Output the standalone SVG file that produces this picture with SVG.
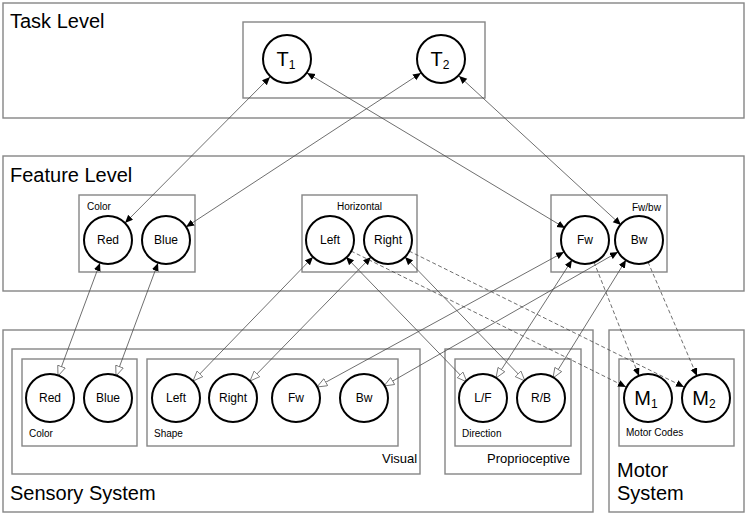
<svg xmlns="http://www.w3.org/2000/svg" width="747" height="516" viewBox="0 0 747 516">
<defs>
<style>
.box{fill:none;stroke:#858585;stroke-width:1.4}
.c{fill:#fff;stroke:#000;stroke-width:2}
.t{font-family:"Liberation Sans",Arial,sans-serif;fill:#000}
.big{font-size:20px}
.mid{font-size:13px}
.sm{font-size:10px}
.lbl{font-size:12px;text-anchor:middle}
.sub{font-size:20px;text-anchor:middle}
.ln{stroke:#4a4a4a;stroke-width:0.8;fill:none}
.ds{stroke:#4a4a4a;stroke-width:0.8;fill:none;stroke-dasharray:4 2.5}
.bi{marker-start:url(#sa);marker-end:url(#sa)}
.fs{marker-start:url(#sa);marker-end:url(#oa)}
.de{marker-end:url(#sa)}
</style>
<marker id="sa" markerUnits="userSpaceOnUse" markerWidth="10" markerHeight="8" refX="8" refY="3.5" orient="auto-start-reverse">
<path d="M0,0 L8,3.5 L0,7 z" fill="#000"/>
</marker>
<marker id="oa" markerUnits="userSpaceOnUse" markerWidth="12" markerHeight="10" refX="10.5" refY="4.5" orient="auto-start-reverse">
<path d="M0.5,0.5 L10.5,4.5 L0.5,8.5 z" fill="#fff" stroke="#666" stroke-width="0.8"/>
</marker>
</defs>
<rect width="747" height="516" fill="#fff"/>

<g id="containers">
<g id="task-level">
<rect class="box" x="3" y="3" width="741" height="115"/>
<text class="t big" x="10" y="28">Task Level</text>
<rect class="box" x="243" y="22" width="242" height="76"/>
</g>
<g id="feature-level">
<rect class="box" x="3" y="156" width="741" height="135"/>
<text class="t big" x="10" y="182">Feature Level</text>
<rect class="box" x="79" y="195" width="116" height="77"/>
<text class="t sm" x="87" y="210">Color</text>
<rect class="box" x="302" y="195" width="115" height="77"/>
<text class="t sm" x="337" y="210">Horizontal</text>
<rect class="box" x="551" y="195" width="116" height="77"/>
<text class="t sm" x="632" y="211">Fw/bw</text>
</g>
<g id="sensory-system">
<rect class="box" x="3" y="330" width="590" height="182"/>
<text class="t big" x="10" y="500">Sensory System</text>
<rect class="box" x="12" y="349" width="408" height="125"/>
<text class="t mid" x="382" y="463">Visual</text>
<rect class="box" x="22" y="359" width="115" height="87"/>
<text class="t sm" x="29" y="437">Color</text>
<rect class="box" x="147" y="359" width="251" height="87"/>
<text class="t sm" x="154" y="437">Shape</text>
<rect class="box" x="445" y="349" width="136" height="125"/>
<text class="t mid" x="487" y="463">Proprioceptive</text>
<rect class="box" x="455" y="359" width="116" height="87"/>
<text class="t sm" x="462" y="437">Direction</text>
</g>
<g id="motor-system">
<rect class="box" x="609" y="330" width="135" height="182"/>
<text class="t big" x="617" y="477">Motor</text>
<text class="t big" x="617" y="500">System</text>
<rect class="box" x="619" y="359" width="115" height="87"/>
<text class="t sm" x="626" y="436">Motor Codes</text>
</g>
</g>

<g id="connectors">
<line class="ln bi" x1="270" y1="77" x2="125" y2="223"/>
<line class="ln bi" x1="421" y1="73" x2="186" y2="227"/>
<line class="ln bi" x1="307" y1="73" x2="565" y2="228"/>
<line class="ln bi" x1="459" y1="76" x2="621" y2="225"/>
<line class="ln fs" x1="100" y1="263" x2="58" y2="376"/>
<line class="ln fs" x1="158" y1="263" x2="116" y2="376"/>
<line class="ln fs" x1="313" y1="257" x2="193" y2="381"/>
<line class="ln fs" x1="371" y1="257" x2="250" y2="381"/>
<line class="ln fs" x1="346" y1="257" x2="467" y2="382"/>
<line class="ln fs" x1="405" y1="257" x2="525" y2="381"/>
<line class="ln fs" x1="564" y1="252" x2="317" y2="387"/>
<line class="ln fs" x1="618" y1="252" x2="384" y2="386"/>
<line class="ln fs" x1="572" y1="260" x2="496" y2="378"/>
<line class="ln fs" x1="626" y1="260" x2="553" y2="378"/>
<line class="ds de" x1="594" y1="262" x2="639" y2="376"/>
<line class="ds de" x1="648" y1="262" x2="697" y2="376"/>
<line class="ds de" x1="351" y1="251" x2="626" y2="387"/>
<line class="ds de" x1="409" y1="251" x2="684" y2="387"/>
</g>

<g id="T1"><circle class="c" cx="287" cy="59" r="24"/><text class="t sub" x="286" y="66">T<tspan font-size="12" dy="3">1</tspan></text></g>
<g id="T2"><circle class="c" cx="441" cy="59" r="24"/><text class="t sub" x="440" y="66">T<tspan font-size="12" dy="3">2</tspan></text></g>

<g id="f-red"><circle class="c" cx="108" cy="240" r="24"/><text class="t lbl" x="108" y="244">Red</text></g>
<g id="f-blue"><circle class="c" cx="166" cy="240" r="24"/><text class="t lbl" x="166" y="244">Blue</text></g>
<g id="f-left"><circle class="c" cx="330" cy="240" r="24"/><text class="t lbl" x="330" y="244">Left</text></g>
<g id="f-right"><circle class="c" cx="388" cy="240" r="24"/><text class="t lbl" x="388" y="244">Right</text></g>
<g id="f-fw"><circle class="c" cx="585" cy="240" r="24"/><text class="t lbl" x="585" y="244">Fw</text></g>
<g id="f-bw"><circle class="c" cx="639" cy="240" r="24"/><text class="t lbl" x="639" y="244">Bw</text></g>

<g id="s-red"><circle class="c" cx="50" cy="398" r="24"/><text class="t lbl" x="50" y="402">Red</text></g>
<g id="s-blue"><circle class="c" cx="108" cy="398" r="24"/><text class="t lbl" x="108" y="402">Blue</text></g>
<g id="s-left"><circle class="c" cx="176" cy="398" r="24"/><text class="t lbl" x="176" y="402">Left</text></g>
<g id="s-right"><circle class="c" cx="233" cy="398" r="24"/><text class="t lbl" x="233" y="402">Right</text></g>
<g id="s-fw"><circle class="c" cx="296" cy="398" r="24"/><text class="t lbl" x="296" y="402">Fw</text></g>
<g id="s-bw"><circle class="c" cx="364" cy="398" r="24"/><text class="t lbl" x="364" y="402">Bw</text></g>
<g id="s-lf"><circle class="c" cx="483" cy="398" r="24"/><text class="t lbl" x="483" y="402">L/F</text></g>
<g id="s-rb"><circle class="c" cx="541" cy="398" r="24"/><text class="t lbl" x="541" y="402">R/B</text></g>

<g id="M1"><circle class="c" cx="648" cy="398" r="24"/><text class="t sub" x="646" y="405">M<tspan font-size="12" dy="3">1</tspan></text></g>
<g id="M2"><circle class="c" cx="706" cy="398" r="24"/><text class="t sub" x="704" y="405">M<tspan font-size="12" dy="3">2</tspan></text></g>
</svg>
